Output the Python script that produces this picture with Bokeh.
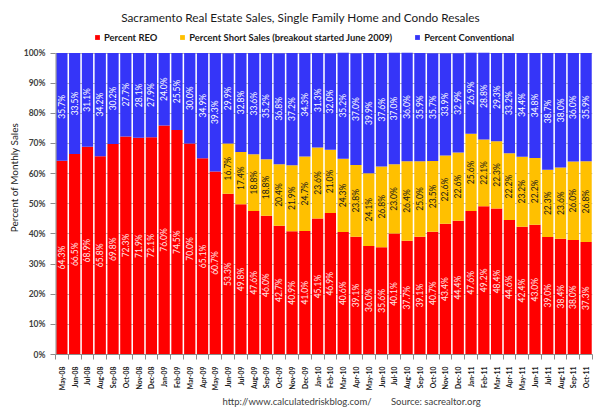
import math
from bokeh.plotting import figure
from bokeh.models import Range1d, FixedTicker, ColumnDataSource, Legend, LegendItem, Title, Label
from bokeh.core.properties import value
from bokeh.embed import file_html
from bokeh.resources import INLINE

months = ["May-08", "Jun-08", "Jul-08", "Aug-08", "Sep-08", "Oct-08", "Nov-08", "Dec-08",
          "Jan-09", "Feb-09", "Mar-09", "Apr-09", "May-09", "Jun-09", "Jul-09", "Aug-09",
          "Sep-09", "Oct-09", "Nov-09", "Dec-09",
          "Jan-10", "Feb-10", "Mar-10", "Apr-10", "May-10", "Jun-10", "Jul-10", "Aug-10",
          "Sep-10", "Oct-10", "Nov-10", "Dec-10",
          "Jan-11", "Feb-11", "Mar-11", "Apr-11", "May-11", "Jun-11", "Jul-11", "Aug-11",
          "Sep-11", "Oct-11"]

reo = [64.3, 66.5, 68.9, 65.8, 69.8, 72.3, 71.9, 72.1,
       76.0, 74.5, 70.0, 65.1, 60.7, 53.3, 49.8, 47.6, 46.0, 42.7, 40.9, 41.0,
       45.1, 46.9, 40.6, 39.1, 36.0, 35.6, 40.1, 37.7, 39.1, 40.7, 43.4, 44.4,
       47.6, 49.2, 48.4, 44.6, 42.4, 43.0, 39.0, 38.4, 38.0, 37.3]

short_sales = [0, 0, 0, 0, 0, 0, 0, 0,
               0, 0, 0, 0, 0, 16.7, 17.4, 18.8, 18.8, 20.4, 21.9, 24.7,
               23.6, 21.0, 24.3, 23.8, 24.1, 26.8, 23.0, 26.4, 25.0, 23.5, 22.6, 22.6,
               25.6, 22.1, 22.3, 22.2, 23.2, 22.2, 22.3, 23.6, 26.0, 26.8]

conventional = [35.7, 33.5, 31.1, 34.2, 30.2, 27.7, 28.1, 27.9,
                24.0, 25.5, 30.0, 34.9, 39.3, 29.9, 32.8, 33.6, 35.2, 36.8, 37.2, 34.3,
                31.3, 32.0, 35.2, 37.0, 39.9, 37.6, 37.0, 36.0, 35.9, 35.7, 33.9, 32.9,
                26.9, 28.8, 29.3, 33.2, 34.4, 34.8, 38.7, 38.0, 36.0, 35.9]

y_ticks = [0, 10, 20, 30, 40, 50, 60, 70, 80, 90, 100]

RED = "#FF0000"
GOLD = "#FFC000"
BLUE = "#3535F8"
AXIS = "#8c8c8c"
FONT = "Lato"

n = len(months)
xs = [i + 0.5 for i in range(n)]

src = ColumnDataSource(dict(x=xs, reo=reo, short=short_sales, conv=conventional))

# the frame reaches the top of the figure so that title and legend can sit inside it
p = figure(width=600, height=412, x_range=Range1d(0, n), y_range=Range1d(0, 117.43),
           output_backend="svg", toolbar_location=None, title=None,
           min_border_left=55, min_border_right=8, min_border_top=0, min_border_bottom=55)
p.outline_line_color = None
p.background_fill_color = "white"
p.border_fill_color = "white"

rs = p.vbar_stack(["reo", "short", "conv"], x="x", width=0.88, color=[RED, GOLD, BLUE],
                  line_color=None, source=src)

# y axis line only over 0..100 %
p.segment(x0=[0], y0=[y_ticks[0]], x1=[0], y1=[y_ticks[-1]], line_color=AXIS, line_width=2)

# segment value labels
lab_x, lab_y, lab_t, lab_c = [], [], [], []
for i in range(n):
    a, b, c = reo[i], short_sales[i], conventional[i]
    lab_x.append(xs[i]); lab_y.append(a / 2); lab_t.append(f"{a:.1f}%"); lab_c.append("#FFE8E8")
    if b > 0:
        lab_x.append(xs[i]); lab_y.append(a + b / 2); lab_t.append(f"{b:.1f}%"); lab_c.append("#1a1a1a")
    lab_x.append(xs[i]); lab_y.append(a + b + c / 2); lab_t.append(f"{c:.1f}%"); lab_c.append("#FFFFFF")
tsrc = ColumnDataSource(dict(x=lab_x, y=lab_y, t=lab_t, c=lab_c))
p.text(x="x", y="y", text="t", text_color="c", source=tsrc, angle=math.pi / 2,
       text_align="center", text_baseline="middle", text_font=value(FONT),
       text_font_size="8.5px")

# y axis
p.yaxis.ticker = FixedTicker(ticks=y_ticks)
p.yaxis.major_label_overrides = {t: f"{t}%" for t in y_ticks}
p.yaxis.major_label_text_font = FONT
p.yaxis.major_label_text_font_style = "bold"
p.yaxis.major_label_text_font_size = "8.5px"
p.yaxis.major_label_text_color = "#404040"
p.yaxis.axis_line_color = None
p.yaxis.major_tick_line_color = AXIS
p.yaxis.major_tick_out = 5
p.yaxis.major_tick_in = 0
p.yaxis.minor_tick_line_color = None
p.yaxis.major_label_standoff = 5

p.ygrid.ticker = FixedTicker(ticks=y_ticks)
p.ygrid.grid_line_color = "#b5b5b5"
p.xgrid.grid_line_color = None

# y axis title as a side title so it can be shifted to the middle of 0..100 %
p.add_layout(Title(text="Percent of Monthly Sales", align="center", offset=-26.5, standoff=1,
                   text_font=FONT, text_font_size="10px", text_font_style="normal",
                   text_color="#1a1a1a"), "left")

# x axis
p.xaxis.ticker = FixedTicker(ticks=xs, minor_ticks=list(range(n + 1)))
p.xaxis.major_label_overrides = {x: m for x, m in zip(xs, months)}
p.xaxis.major_label_orientation = math.pi / 2
p.xaxis.major_label_text_font = FONT
p.xaxis.major_label_text_font_style = "bold"
p.xaxis.major_label_text_font_size = "6.8px"
p.xaxis.major_label_text_color = "#1a1a1a"
p.xaxis.major_tick_line_color = None
p.xaxis.major_tick_out = 0
p.xaxis.major_tick_in = 0
p.xaxis.major_label_standoff = 7
p.xaxis.axis_label_standoff = 0
p.xaxis.minor_tick_line_color = AXIS
p.xaxis.minor_tick_out = 5
p.xaxis.minor_tick_in = 0
p.xaxis.axis_line_color = AXIS

# title inside the (extended) frame
p.add_layout(Label(x=19.16, y=111.8,
                   text="Sacramento Real Estate Sales, Single Family Home and Condo Resales",
                   text_align="center", text_baseline="middle", text_font=FONT,
                   text_font_size="11.8px", text_color="#1a1a1a"))

# legend inside the frame, above the bars
names = ["Percent REO", "Percent Short Sales (breakout started June 2009)", "Percent Conventional"]
legend = Legend(items=[LegendItem(label=nm, renderers=[r]) for nm, r in zip(names, rs)],
                location=(39, 311), orientation="horizontal", padding=0, margin=0, spacing=22,
                glyph_width=6, glyph_height=6, label_standoff=4, label_height=12,
                label_text_font=FONT, label_text_font_style="bold",
                label_text_font_size="9.4px", label_text_color="#1a1a1a",
                border_line_color=None, background_fill_alpha=0)
p.add_layout(legend)

# footer below the x axis
nb = "\u00a0" * 8
p.add_layout(Title(text="http://www.calculatedriskblog.com/" + nb + "Source: sacrealtor.org",
                   align="left", offset=167, standoff=0, text_font=FONT,
                   text_font_size="9.5px", text_font_style="normal", text_color="#404040"),
             "below")
# small blank spacer under the footer so the footer sits a little higher
p.add_layout(Title(text="\u00a0", standoff=3, text_font_size="1px"), "below")

open("out.html", "w").write(file_html(p, INLINE))
